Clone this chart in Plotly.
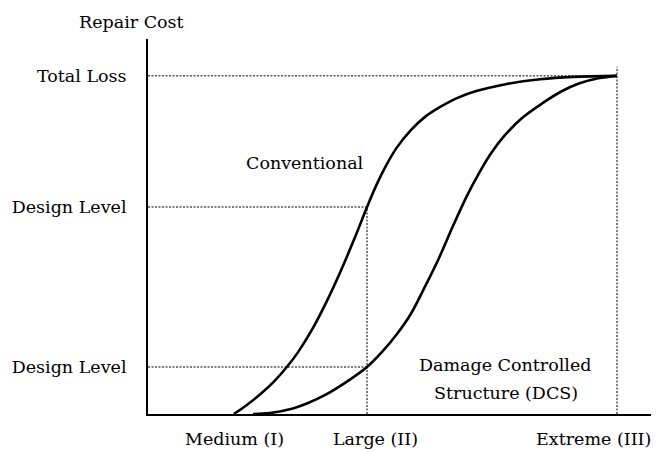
import plotly.graph_objects as go

# Damage level (x) in normalized units: 0 = origin, 100 = Extreme
damage_labels = ["Medium (I)", "Large (II)", "Extreme (III)"]
damage_ticks = [18.3, 46.7, 100.0]

# Repair cost (y) in normalized units: 0 = none, 100 = Total Loss
cost_labels = ["Design Level", "Design Level", "Total Loss"]
cost_ticks = [13.9, 61.2, 100.0]

# Conventional structure curve
conv_x = [18.3, 21, 24, 27, 29.6, 32, 35, 38, 41, 44, 46.7, 48.5, 50.5, 53, 56, 59,
          62.3, 66, 70, 76.5, 83.6, 90.6, 100]
conv_y = [0.0, 2.6, 5.9, 9.8, 13.9, 18.3, 25.0, 33.0, 42.0, 51.8, 61.2, 67.1, 72.8,
          78.7, 83.9, 87.8, 90.8, 93.5, 95.5, 97.6, 99.0, 99.7, 100]

# Damage Controlled Structure curve
dcs_x = [22.4, 26, 30, 34, 38, 42, 46.7, 50, 53, 56, 59, 62, 65, 68, 70.5, 73, 76,
         80, 84, 88, 92, 96, 100]
dcs_y = [0.0, 0.3, 1.3, 3.2, 5.8, 9.2, 13.9, 18.5, 23.5, 29.5, 37.5, 46, 55.5, 64.5,
         71, 76.8, 82.3, 87.8, 91.8, 95.3, 97.8, 99.3, 100]

FONT = "DejaVu Serif"
FS = 17.5
X_RANGE = [0, 108.1]
Y_RANGE = [0, 110.9]

fig = go.Figure()

dot = dict(color="#555555", width=1.5, dash="2px,1.5px")
# guide lines
fig.add_trace(go.Scatter(x=[0, damage_ticks[2]], y=[cost_ticks[2]] * 2, mode="lines",
                         line=dot, hoverinfo="skip"))
fig.add_trace(go.Scatter(x=[0, damage_ticks[1]], y=[cost_ticks[1]] * 2, mode="lines",
                         line=dot, hoverinfo="skip"))
fig.add_trace(go.Scatter(x=[0, damage_ticks[1]], y=[cost_ticks[0]] * 2, mode="lines",
                         line=dot, hoverinfo="skip"))
fig.add_trace(go.Scatter(x=[damage_ticks[1]] * 2, y=[0, cost_ticks[1]], mode="lines",
                         line=dot, hoverinfo="skip"))
fig.add_trace(go.Scatter(x=[damage_ticks[2]] * 2, y=[0, 102.7], mode="lines",
                         line=dot, hoverinfo="skip"))

# curves
fig.add_trace(go.Scatter(x=conv_x, y=conv_y, mode="lines", name="Conventional",
                         line=dict(color="black", width=2.6, shape="spline", smoothing=1.0)))
fig.add_trace(go.Scatter(x=dcs_x, y=dcs_y, mode="lines", name="DCS",
                         line=dict(color="black", width=2.6, shape="spline", smoothing=1.0)))

txt = dict(family=FONT, size=FS, color="black")
annos = [
    dict(x=-0.0316, y=1.0453, xref="paper", yref="paper", text="Repair Cost"),
    dict(x=33.5, y=74.3, xref="x", yref="y", text="Conventional"),
    dict(x=76.3, y=14.5, xref="x", yref="y", text="Damage Controlled"),
    dict(x=76.3, y=6.2, xref="x", yref="y", text="Structure (DCS)"),
    dict(x=18.5, y=-0.0667, xref="x", yref="paper", text=damage_labels[0]),
    dict(x=48.6, y=-0.0667, xref="x", yref="paper", text=damage_labels[1]),
    dict(x=107.6, y=-0.0667, xref="x", yref="paper", text=damage_labels[2], xanchor="right"),
]

fig.update_layout(
    width=651, height=444,
    margin=dict(l=140, r=4, t=31, b=38),
    paper_bgcolor="white", plot_bgcolor="white",
    showlegend=False,
    font=txt,
    xaxis=dict(range=X_RANGE, showgrid=False, zeroline=False, showline=True,
               linecolor="black", linewidth=2, showticklabels=False, ticks=""),
    yaxis=dict(range=Y_RANGE, showgrid=False, zeroline=False, showline=True,
               linecolor="black", linewidth=2, tickvals=cost_ticks, ticktext=cost_labels,
               ticks="", ticklabelstandoff=16, tickfont=txt),
    annotations=[dict(dict(showarrow=False, font=txt, xanchor="center", yanchor="middle"), **a)
                 for a in annos],
)

fig.write_html("out.html")
